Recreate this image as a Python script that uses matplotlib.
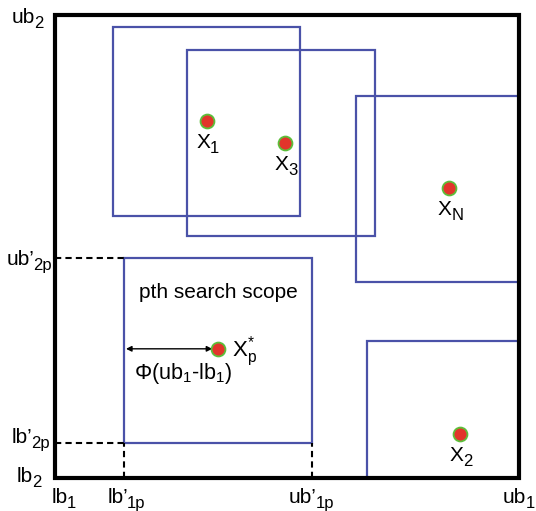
import matplotlib
matplotlib.use("Agg")
import matplotlib.pyplot as plt
from matplotlib.patches import Rectangle

plt.rcParams['font.family'] = ['Liberation Sans', 'DejaVu Sans']
plt.rcParams['mathtext.fontset'] = 'custom'
plt.rcParams['mathtext.rm'] = 'Liberation Sans'
plt.rcParams['mathtext.it'] = 'Liberation Sans'
plt.rcParams['mathtext.default'] = 'regular'

# ---- data (normalized search space: lb=0, ub=1) ----
rect_left = [0.125, 0.284, 0.649, 0.149, 0.672]
rect_right = [0.528, 0.690, 1.000, 0.554, 1.000]
rect_bottom = [0.566, 0.523, 0.423, 0.076, 0.000]
rect_top = [0.974, 0.924, 0.825, 0.475, 0.296]

point_x = [0.328, 0.496, 0.849, 0.351, 0.873]
point_y = [0.771, 0.724, 0.626, 0.279, 0.095]
point_main = ["X", "X", "X", "X", "X"]
point_sub = ["1", "3", "N", "p", "2"]
point_sup = [None, None, None, "*", None]

p_index = 3  # the p-th search scope

x_tick_main = ["lb", "lb’", "ub’", "ub"]
x_tick_sub = ["1", "1p", "1p", "1"]
y_tick_main = ["lb", "lb’", "ub’", "ub"]
y_tick_sub = ["2", "2p", "2p", "2"]

# ---- layout ----
fig = plt.figure(figsize=(5.36, 5.11), dpi=100)
ax = fig.add_axes([0, 0, 1, 1])
ax.set_xlim(-0.1185, 1.0366)
ax.set_ylim(-0.0713, 1.0324)
ax.axis('off')

MAIN_FS = 15
SUB_FS = 12


def label(xy, main, sub=None, dx=0, dy=0, fs=MAIN_FS, sfs=SUB_FS, sub_dx=-1.0):
    t = ax.annotate(main, xy=xy, xytext=(dx, dy), textcoords='offset pixels',
                    ha='left', va='baseline', fontsize=fs, zorder=6)
    if sub:
        ax.annotate(sub, xy=(1, 0), xycoords=t, xytext=(sub_dx, -1), textcoords='offset pixels',
                    ha='left', va='baseline', fontsize=sfs, zorder=6)
    return t


blue = '#4a52a8'
for l, r, b, t in zip(rect_left, rect_right, rect_bottom, rect_top):
    ax.add_patch(Rectangle((l, b), r - l, t - b, fill=False, edgecolor=blue, lw=1.6, zorder=2))

# outer frame
ax.add_patch(Rectangle((0, 0), 1, 1, fill=False, edgecolor='black', lw=3.0, zorder=4))

# dashed projection lines for p-th scope
pl, pr, pb, pt = rect_left[p_index], rect_right[p_index], rect_bottom[p_index], rect_top[p_index]
dash = dict(color='black', lw=1.5, ls=(0, (3, 2)), zorder=3)
ax.plot([0, pl], [pt, pt], **dash)
ax.plot([0, pl], [pb, pb], **dash)
ax.plot([pl, pl], [0, pb], **dash)
ax.plot([pr, pr], [0, pb], **dash)

# points
ax.plot(point_x, point_y, 'o', ms=10, mfc='#e2352b', mec='#5cbf3a', mew=1.3, zorder=5, ls='none')
for i in range(len(point_x)):
    xy = (point_x[i], point_y[i])
    if point_sup[i]:
        ax.annotate(f"{point_main[i]}$^{{{point_sup[i]}}}_{{{point_sub[i]}}}$", xy=xy,
                    xytext=(14, -8), textcoords='offset pixels', ha='left', va='baseline',
                    fontsize=16, zorder=6)
    else:
        label(xy, point_main[i], point_sub[i], dx=-11, dy=-27, sub_dx=0)

# double arrow and Phi text
ax.annotate('', xy=(pl + 0.004, point_y[p_index]), xytext=(point_x[p_index] - 0.012, point_y[p_index]),
            arrowprops=dict(arrowstyle='<|-|>', color='black', lw=1.0, mutation_scale=8,
                            shrinkA=0, shrinkB=0))
ax.annotate("Φ(ub$_1$-lb$_1$)", xy=((pl + point_x[p_index]) / 2, point_y[p_index]),
            xytext=(12, -25), textcoords='offset pixels', ha='center', va='center', fontsize=15.5)
ax.annotate("pth search scope", xy=((pl + pr) / 2, pt), xytext=(0, -34), textcoords='offset pixels',
            ha='center', va='center', fontsize=15)

# axis labels along the bottom
x_pos = [0, pl, pr, 1]
x_dx = [-3, -17, -23, -16]
for x, m, s, ddx in zip(x_pos, x_tick_main, x_tick_sub, x_dx):
    label((x, 0), m, s, dx=ddx, dy=-25, sub_dx=-1.5 if m.endswith('’') else -1.0)

# axis labels along the left side
y_pos = [0, pb, pt, 1]
y_dx = [-38, -43, -48, -43]
y_dy = [-4, 0, -7, -8]
for y, m, s, ddx, ddy in zip(y_pos, y_tick_main, y_tick_sub, y_dx, y_dy):
    label((0, y), m, s, dx=ddx, dy=ddy, sub_dx=-1.5 if m.endswith('’') else -1.0)

fig.savefig('out.png', dpi=100)
